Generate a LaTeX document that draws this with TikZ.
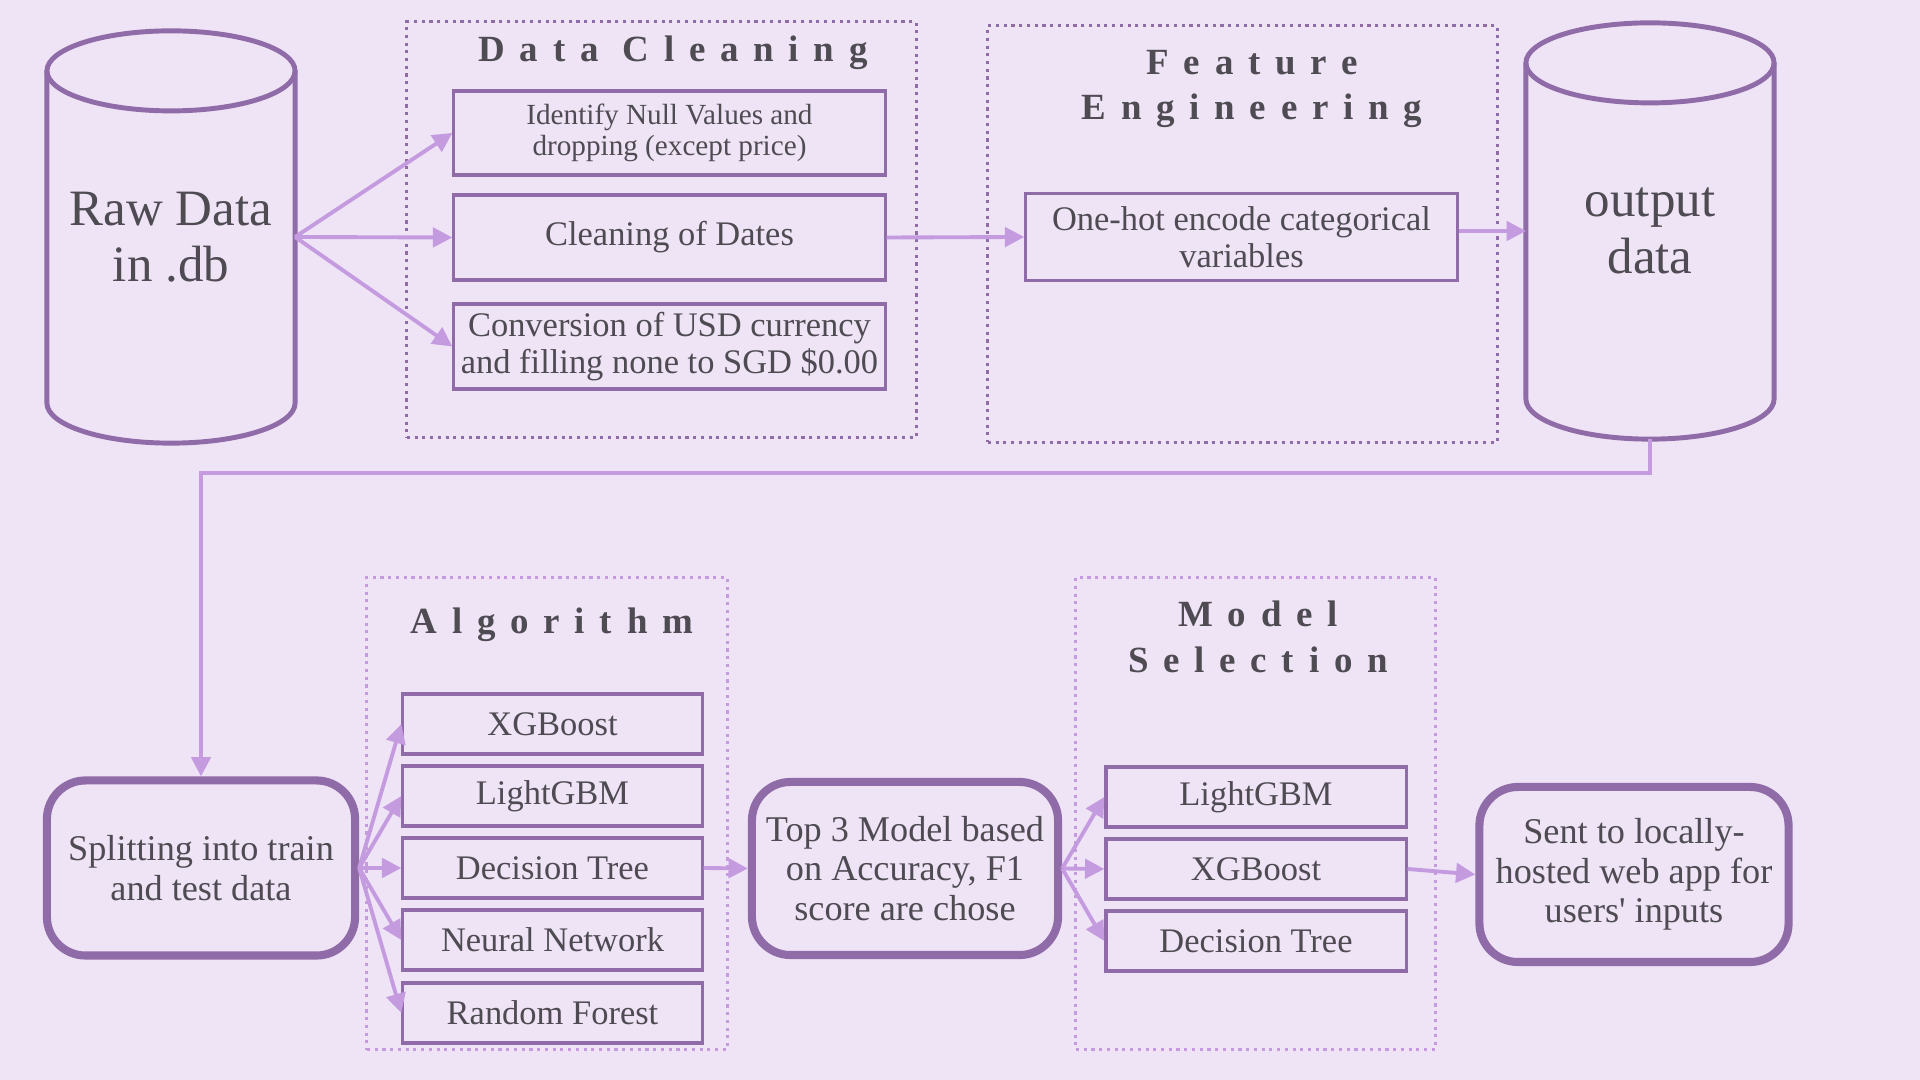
\documentclass[tikz,border=0pt]{standalone}
\usepackage{fontspec}
\setmainfont{Liberation Serif}
\newfontfamily\titlefont[LetterSpace=40]{Liberation Serif}
\usetikzlibrary{arrows.meta,positioning,calc}
\definecolor{bgc}{RGB}{239,227,246}
\definecolor{edgec}{RGB}{143,107,168}
\definecolor{arrc}{RGB}{197,155,224}
\definecolor{txtc}{RGB}{78,75,82}
\tikzset{dbnode/.style={inner sep=0pt, outer sep=0pt, text=txtc, align=center, font=\fontsize{14.5}{16}\selectfont}}
\tikzset{cylline/.style={draw=edgec, line width=1.4pt}}
\tikzset{procbox/.style={draw=edgec, line width=0.9pt, text=txtc, align=center, inner sep=0pt, font=\fontsize{9.8}{10.6}\selectfont}}
\tikzset{roundbox/.style={draw=edgec, line width=2.3pt, rounded corners=11pt, text=txtc, align=center, inner sep=0pt, font=\fontsize{10.3}{11.2}\selectfont}}
\tikzset{groupframe/.style={draw=#1, line width=0.9pt, dash pattern=on 0.9pt off 1.3pt, inner sep=0pt}}
\tikzset{grouptitle/.style={text=txtc, align=center, font=\titlefont\bfseries\fontsize{10.5}{13}\selectfont}}
\tikzset{arr/.style={draw=arrc, line width=1.1pt, -{Triangle[length=5.5pt,width=5.5pt]}}}
\newcommand\dbcylinder[1]{
        \draw[cylline] ($(#1.north west)+(0,40)$) -- ($(#1.south west)+(0,-40)$)
            arc[start angle=180, end angle=360, x radius=1.24cm, y radius=0.4cm]
            -- ($(#1.north east)+(0,40)$);
        \draw[cylline] ($(#1.north)+(0,40)$) ellipse [x radius=1.24cm, y radius=0.4cm];
    }
\begin{document}
\begin{tikzpicture}[x=0.01cm, y=-0.01cm]
    \fill[bgc] (0,0) rectangle (1920,1080);
    \useasboundingbox (0,0) rectangle (1920,1080);

    \node[dbnode, minimum width=2.48cm, minimum height=4.12cm] (raw) at (171,237) {Raw Data\\in .db};
    \dbcylinder{raw}

    \node[groupframe=edgec, minimum width=5.09cm, minimum height=4.15cm] (dcframe) at (661.5,229.5) {};
    \node[grouptitle] (dctitle) at (673,53) {Data Cleaning};
    \node[procbox, minimum width=4.31cm, minimum height=0.84cm, font=\fontsize{8.3}{8.8}\selectfont] (nullbox) at (669.5,133) {Identify Null Values and\\dropping (except price)};
    \node[procbox, minimum width=4.31cm, minimum height=0.85cm] (datebox) at (669.5,237.5) {Cleaning of Dates};
    \node[procbox, minimum width=4.31cm, minimum height=0.85cm] (usdbox) at (669.5,346.5) {Conversion of USD currency\\and filling none to SGD \$0.00};

    \node[groupframe=edgec, minimum width=5.09cm, minimum height=4.16cm] (feframe) at (1242.5,234) {};
    \node[grouptitle] (fetitle) at (1252,89) {Feature\\Engineering};
    \node[procbox, minimum width=4.31cm, minimum height=0.87cm] (onehot) at (1241.5,237) {One-hot encode categorical\\variables};

    \node[dbnode, minimum width=2.48cm, minimum height=4.16cm] (out) at (1650,231) {output\\data};
    \dbcylinder{out}

    \node[roundbox, minimum width=3.08cm, minimum height=1.75cm] (split) at (201,868) {Splitting into train\\and test data};

    \node[groupframe=arrc, minimum width=3.60cm, minimum height=4.72cm] (algframe) at (547,813.5) {};
    \node[grouptitle] (algtitle) at (552,625) {Algorithm};
    \foreach \nm/\yy/\lbl in {xgb/724/XGBoost, lgbm/796/LightGBM, dtree/868/Decision Tree, nnet/940/Neural Network, rforest/1013/Random Forest}
        \node[procbox, minimum width=2.99cm, minimum height=0.6cm] (\nm) at (552.5,\yy) {\lbl};

    \node[roundbox, minimum width=3.06cm, minimum height=1.73cm] (top3) at (905,868.5) {Top 3 Model based\\on Accuracy, F1\\score are chose};

    \node[groupframe=arrc, minimum width=3.59cm, minimum height=4.72cm] (msframe) at (1255.5,813.5) {};
    \node[grouptitle] (mstitle) at (1258,637) {Model\\Selection};
    \foreach \nm/\yy/\lbl in {mslgbm/797/LightGBM, msxgb/869/XGBoost, msdtree/941/Decision Tree}
        \node[procbox, minimum width=3.0cm, minimum height=0.6cm] (\nm) at (1256,\yy) {\lbl};

    \node[roundbox, minimum width=3.09cm, minimum height=1.75cm] (sent) at (1634,874.5) {Sent to locally-\\hosted web app for\\users\textquotesingle\ inputs};

    \foreach \dst in {nullbox, datebox, usdbox}
        \draw[arr] (raw.east) -- (\dst.west);
    \draw[arr] (datebox.east) -- (onehot.west);
    \draw[arr] (onehot.east |- out.west) -- (out.west);
    \draw[arr] (out.south) -- ++(0,34) -| (split.north);
    \foreach \dst in {xgb, lgbm, dtree, nnet, rforest}
        \draw[arr] (split.east) -- (\dst.west);
    \draw[arr] (dtree.east) -- (top3.west);
    \foreach \dst in {mslgbm, msxgb, msdtree}
        \draw[arr] (top3.east) -- (\dst.west);
    \draw[arr] (msxgb.east) -- (sent.west);
\end{tikzpicture}
\end{document}
